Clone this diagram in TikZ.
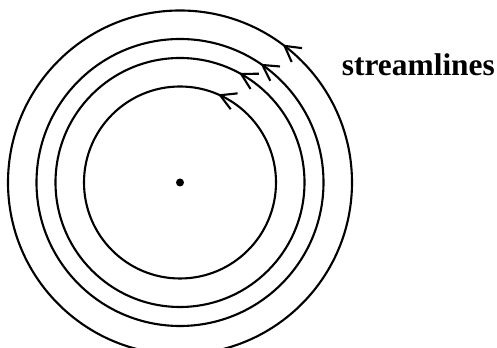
\documentclass[tikz,border=0pt]{standalone}
\usepackage{fontspec}
\setmainfont{Liberation Serif}
\usetikzlibrary{arrows.meta,decorations.markings}
\definecolor{ink}{HTML}{000000}
\tikzset{
  sline/.style={draw=ink,line width=1.8pt},
  tip/.style={postaction={decorate,decoration={markings,
    mark=at position #1 with {\arrow[line width=1.8pt]{Straight Barb[length=4.6mm,width=5.2mm]}}}}},
  lbl/.style={font=\bfseries\fontsize{26.8}{30}\selectfont,text=ink,inner sep=0pt}
}
\begin{document}
\begin{tikzpicture}[x=0.03cm,y=0.03cm]
  \useasboundingbox (0,0) rectangle (497,348);
  \coordinate (o) at (180,165.5);
  % streamlines, inner to outer
  \foreach \r/\p in {96/0.185,124.5/0.171,143.5/0.155,172/0.148}{
    \draw[sline,tip=\p] (o) circle (\r);
  }
  \node[circle,fill=ink,inner sep=0pt,minimum size=0.24cm] (ctr) at (o) {};
  \node[lbl,anchor=base west] (name) at (341.7,272) {streamlines};
\end{tikzpicture}
\end{document}
